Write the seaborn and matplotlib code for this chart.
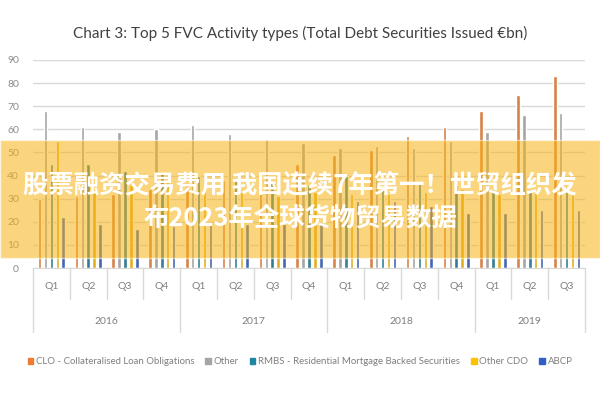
import pandas as pd
import numpy as np
import matplotlib
matplotlib.use("Agg")
import matplotlib.pyplot as plt
import matplotlib.transforms as mtrans
from matplotlib.patches import Rectangle
import seaborn as sns

# Datos (miles de millones de euros)
quarters = ["Q1", "Q2", "Q3", "Q4", "Q1", "Q2", "Q3", "Q4",
            "Q1", "Q2", "Q3", "Q4", "Q1", "Q2", "Q3"]
years = ["2016"] * 4 + ["2017"] * 4 + ["2018"] * 4 + ["2019"] * 3

clo = [30, 31, 32, 34, 36, 38, 41, 45, 49, 51, 57, 61, 68, 75, 83]
other = [68, 61, 59, 60, 62, 58, 56, 54, 52, 53, 52, 55, 59, 66, 67]
rmbs = [45, 45, 42, 41, 40, 38, 37, 36, 40, 34, 37, 36, 34, 34, 35]
other_cdo = [55, 34, 36, 38, 35, 33, 31, 33, 32, 32, 33, 34, 32, 33, 32]
abcp = [22, 19, 17, 18, 19, 19, 19, 20, 29, 29, 27, 24, 24, 25, 25]

series = ["CLO - Collateralised Loan Obligations", "Other",
          "RMBS - Residential Mortgage Backed Securities", "Other CDO", "ABCP"]
colores = ["#ED7D31", "#A5A5A5", "#1F86A6", "#FFC000", "#2F5FC4"]

periodos = [f"{y} {q}" for y, q in zip(years, quarters)]
df = pd.DataFrame({
    "periodo": periodos * 5,
    "serie": np.repeat(series, len(periodos)),
    "valor": clo + other + rmbs + other_cdo + abcp,
})

sns.set_style("white")
plt.rcParams["font.family"] = ["Lato", "DejaVu Sans"]

fig = plt.figure(figsize=(6, 4), dpi=100)
ax = fig.add_axes([0.055, 0.33, 0.92, 0.52])

sns.barplot(data=df, x="periodo", y="valor", hue="serie", hue_order=series,
            order=periodos, palette=colores, width=0.8, gap=0.4, ax=ax,
            legend=False, zorder=3)

ax.set_ylim(0, 90)
ax.set_xlim(-0.5, len(periodos) - 0.5)
ax.set_yticks(range(0, 91, 10))
ax.yaxis.grid(True, color="#D9D9D9", lw=1, zorder=0)
ax.tick_params(axis="y", labelsize=7.5, colors="#8C8C8C", length=0, pad=10)
for s in ["top", "right", "left"]:
    ax.spines[s].set_visible(False)
ax.spines["bottom"].set_color("#D9D9D9")
ax.set_xlabel("")
ax.set_ylabel("")
ax.set_xticks(range(len(periodos)))
ax.set_xticklabels(quarters)
ax.tick_params(axis="x", labelsize=7.5, colors="#7F7F7F", length=0, pad=10)

# Eje de dos niveles: separadores y años
trans = mtrans.blended_transform_factory(ax.transData, ax.transAxes)
for i in range(len(periodos) + 1):
    x = i - 0.5
    largo = i in (0, 4, 8, 12, len(periodos))
    ax.plot([x, x], [0, -0.31 if largo else -0.15], transform=trans,
            color="#D9D9D9", lw=1, clip_on=False)
for anio, centro in [("2016", 1.5), ("2017", 5.5), ("2018", 9.5), ("2019", 13)]:
    ax.text(centro, -0.255, anio, transform=trans, ha="center", va="center",
            fontsize=7.5, color="#7F7F7F")

fig.suptitle("Chart 3: Top 5 FVC Activity types (Total Debt Securities Issued €bn)",
             y=0.935, fontsize=11, color="#404040")

# Leyenda
handles = [Rectangle((0, 0), 1, 1, color=c) for c in colores]
fig.legend(handles, series, loc="center", bbox_to_anchor=(0.5, 0.095), ncol=5,
           frameon=False, fontsize=6.9, handlelength=0.6, handleheight=0.6,
           columnspacing=1.1, handletextpad=0.3, labelcolor="#7F7F7F")

# Banda superpuesta con texto
fig.patches.append(Rectangle((0, 0.355), 1, 0.295, transform=fig.transFigure,
                             facecolor="#F9B413", alpha=0.55, zorder=10))
fig.text(0.5, 0.538, "股票融资交易费用 我国连续7年第一！世贸组织发",
         ha="center", va="center", fontsize=18.3, color="white", weight="bold",
         family=["Noto Sans CJK SC", "DejaVu Sans"], zorder=11)
fig.text(0.5, 0.455, "布2023年全球货物贸易数据",
         ha="center", va="center", fontsize=18.3, color="white", weight="bold",
         family=["Noto Sans CJK SC", "DejaVu Sans"], zorder=11)

plt.savefig("out.png", dpi=100)
